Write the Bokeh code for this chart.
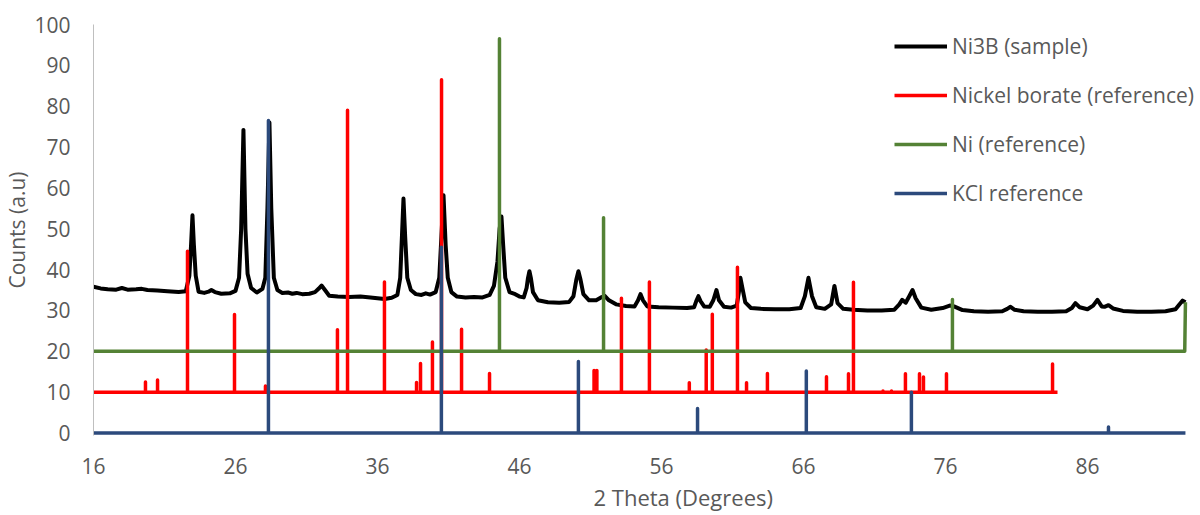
from bokeh.plotting import figure
from bokeh.models import Range1d, FixedTicker, Legend, LegendItem, Title
from bokeh.embed import file_html
from bokeh.resources import INLINE

# ---------------- data ----------------
sample_theta = [16.0, 16.5, 17.0, 17.6, 18.0, 18.4, 19.0, 19.4, 19.8, 20.5, 21.2, 22.0, 22.5,
                22.75, 22.87, 22.97, 23.07, 23.2, 23.4, 23.8, 24.1, 24.3, 24.55, 25.0, 25.6,
                26.0, 26.25, 26.4, 26.56, 26.7, 26.85, 27.1, 27.5, 27.9, 28.1, 28.25, 28.39,
                28.52, 28.7, 28.95, 29.3, 29.7, 30.0, 30.3, 30.7, 31.2, 31.6, 31.85, 32.06,
                32.3, 32.6, 33.2, 34.0, 34.8, 35.5, 36.0, 36.5, 37.0, 37.4, 37.6, 37.72, 37.83,
                37.95, 38.1, 38.35, 38.7, 39.1, 39.4, 39.7, 40.1, 40.35, 40.5, 40.65, 40.8,
                40.95, 41.2, 41.6, 42.2, 42.8, 43.4, 43.9, 44.2, 44.45, 44.6, 44.73, 44.85,
                45.0, 45.3, 45.7, 46.0, 46.3, 46.5, 46.6, 46.7, 46.8, 46.95, 47.3, 48.0, 48.8,
                49.5, 49.8, 50.0, 50.15, 50.3, 50.5, 50.9, 51.4, 51.8, 52.0, 52.3, 52.8, 53.5,
                54.1, 54.35, 54.52, 54.7, 55.0, 55.8, 56.8, 57.8, 58.3, 58.45, 58.6, 58.75,
                59.0, 59.4, 59.65, 59.87, 60.05, 60.4, 60.9, 61.3, 61.45, 61.56, 61.7, 61.9,
                62.3, 63.0, 64.0, 65.0, 65.8, 66.1, 66.35, 66.6, 66.9, 67.5, 67.95, 68.18,
                68.4, 68.8, 69.5, 70.5, 71.5, 72.4, 72.75, 72.95, 73.2, 73.45, 73.68, 73.9,
                74.3, 75.0, 75.8, 76.3, 76.6, 77.2, 78.0, 79.0, 80.0, 80.35, 80.58, 80.85,
                81.5, 82.5, 83.5, 84.5, 84.9, 85.15, 85.45, 86.0, 86.4, 86.7, 87.0, 87.2,
                87.48, 87.8, 88.5, 89.5, 90.5, 91.5, 92.2, 92.5, 92.7, 92.9]
sample_counts = [35.8, 35.4, 35.2, 35.1, 35.5, 35.1, 35.2, 35.3, 35.0, 34.9, 34.7, 34.5, 34.7,
                 38.5, 46.0, 53.3, 46.0, 38.5, 34.6, 34.3, 34.6, 35.0, 34.5, 34.1, 34.2,
                 34.8, 38.0, 50.0, 74.2, 50.0, 39.0, 35.5, 34.4, 35.3, 38.0, 55.0, 76.0,
                 55.0, 38.0, 35.0, 34.3, 34.4, 34.1, 34.3, 34.0, 34.1, 34.5, 35.3, 36.1,
                 35.0, 33.6, 33.4, 33.3, 33.4, 33.2, 33.0, 32.8, 33.1, 33.8, 38.0, 48.0, 57.4,
                 48.0, 38.0, 35.0, 34.0, 33.8, 34.2, 33.9, 34.5, 38.0, 48.0, 58.2, 46.0,
                 38.0, 34.5, 33.4, 33.2, 33.3, 33.2, 33.8, 36.0, 42.0, 50.0, 53.0, 46.0,
                 38.0, 34.5, 34.0, 33.4, 33.2, 35.5, 38.0, 39.6, 38.0, 34.5, 32.5, 32.0, 31.9,
                 32.1, 33.5, 37.5, 39.6, 37.5, 34.0, 32.5, 32.5, 33.3, 33.6, 32.5, 31.5, 31.1,
                 31.0, 32.5, 34.0, 32.5, 31.0, 30.8, 30.7, 30.6, 30.8, 32.3, 33.5, 32.3,
                 31.0, 30.9, 32.5, 35.0, 32.5, 30.9, 30.7, 31.2, 34.5, 38.0, 35.5, 32.0,
                 30.6, 30.4, 30.3, 30.3, 30.6, 33.5, 38.0, 33.5, 30.8, 30.4, 31.5, 36.0,
                 31.8, 30.4, 30.2, 30.0, 30.0, 30.2, 31.5, 32.6, 31.9, 33.5, 35.0, 33.0,
                 30.7, 30.2, 30.6, 31.2, 31.0, 30.1, 29.8, 29.7, 29.8, 30.4, 30.9, 30.2,
                 29.8, 29.7, 29.7, 29.8, 30.6, 31.8, 30.8, 30.3, 31.2, 32.6, 31.0, 30.9,
                 31.3, 30.5, 29.9, 29.7, 29.7, 29.8, 30.3, 31.6, 32.4, 32.0]

borate_theta = [19.66, 20.51, 22.62, 25.93, 28.11, 33.18, 33.89, 36.49, 38.75, 39.03, 39.87,
                40.51, 41.92, 43.89, 51.25, 51.45, 53.18, 55.15, 57.96, 59.15, 59.58, 61.35,
                61.99, 63.46, 67.62, 69.17, 69.52, 71.6, 72.2, 73.18, 74.17, 74.45, 76.07, 83.54]
borate_counts = [12.5, 13.0, 44.5, 29.0, 11.5, 25.3, 79.0, 37.0, 12.4, 17.0, 22.3,
                 86.5, 25.4, 14.6, 15.3, 15.3, 33.0, 37.0, 12.3, 20.3, 29.1, 40.6,
                 12.3, 14.6, 13.8, 14.5, 36.9, 10.3, 10.3, 14.5, 14.5, 13.7, 14.5, 16.9]
borate_base = 10
borate_end = 83.89

ni_theta = [44.59, 51.92, 76.49]
ni_counts = [96.5, 52.7, 32.7]
ni_base = 20
ni_edge_theta = [92.85, 92.9]       # partial peak cut at the right end of the scan
ni_edge_counts = [20, 32.0]

kcl_theta = [28.32, 40.5, 50.15, 58.54, 66.2, 73.6, 87.48]
kcl_counts = [76.5, 45.5, 17.5, 6.0, 15.2, 10.0, 1.5]
kcl_base = 0

x_start, x_data_end, x_view_end = 16, 92.9, 93.96
x_ticks = [16, 26, 36, 46, 56, 66, 76, 86]
y_ticks = [0, 10, 20, 30, 40, 50, 60, 70, 80, 90, 100]

labels = ["Ni3B (sample)", "Nickel borate (reference)", "Ni (reference)", "KCl reference"]
colors = ["#000000", "#FF0000", "#548235", "#2C4A7C"]


def sticks(pos, heights, base, x0, x1):
    xs, ys = [x0], [base]
    for x, h in zip(pos, heights):
        xs += [x, x, x]
        ys += [base, h, base]
    xs.append(x1)
    ys.append(base)
    return xs, ys


FONT = "Open Sans"
GREY = "#595959"
FS = "21px"

p = figure(width=1200, height=515, output_backend="svg", toolbar_location=None,
           x_range=Range1d(x_start, x_view_end), y_range=Range1d(-0.6, 100),
           min_border_left=93, min_border_right=0, min_border_top=24, min_border_bottom=80)
p.outline_line_color = None
p.xgrid.grid_line_color = None
p.ygrid.grid_line_color = None
p.background_fill_color = "white"

r0 = p.line(sample_theta, sample_counts, line_width=4, color=colors[0], line_join="round")
bx, by = sticks(borate_theta, borate_counts, borate_base, x_start, borate_end)
r1 = p.line(bx, by, line_width=3.5, color=colors[1], line_join="round")
nx, ny = sticks(ni_theta, ni_counts, ni_base, x_start, ni_edge_theta[0])
nx += ni_edge_theta[1:]
ny += ni_edge_counts[1:]
r2 = p.line(nx, ny, line_width=3.5, color=colors[2], line_join="round")
kx, ky = sticks(kcl_theta, kcl_counts, kcl_base, x_start, x_data_end)
r3 = p.line(kx, ky, line_width=3.5, color=colors[3], line_join="round")

for ax in (p.xaxis[0], p.yaxis[0]):
    ax.major_tick_line_color = None
    ax.minor_tick_line_color = None
    ax.major_label_text_font = FONT
    ax.major_label_text_font_size = FS
    ax.major_label_text_color = GREY
    ax.axis_label_text_font = FONT
    ax.axis_label_text_font_size = FS
    ax.axis_label_text_color = GREY
    ax.axis_label_text_font_style = "normal"

p.xaxis.ticker = FixedTicker(ticks=x_ticks)
p.yaxis.ticker = FixedTicker(ticks=y_ticks)
p.xaxis.axis_line_color = None
p.xaxis.major_label_standoff = 16
p.yaxis.axis_line_color = "#BFBFBF"
p.yaxis.axis_line_width = 1
p.yaxis.major_label_standoff = 17
p.yaxis.axis_label = "Counts (a.u)"
p.yaxis.axis_label_standoff = 0

p.add_layout(Title(text="2 Theta (Degrees)", align="left", offset=500, standoff=6,
                   text_font=FONT, text_font_size="22px", text_color=GREY,
                   text_font_style="normal"), "below")

legend = Legend(items=[LegendItem(label=l, renderers=[r]) for l, r in zip(labels, [r0, r1, r2, r3])],
                location=(801, 228), glyph_width=53, glyph_height=20, label_height=20,
                spacing=21, padding=0, margin=0, border_line_color=None,
                background_fill_alpha=0, label_text_font=FONT, label_text_font_size=FS,
                label_text_color=GREY, label_standoff=5)
p.add_layout(legend)

open("out.html", "w").write(file_html(p, INLINE))
